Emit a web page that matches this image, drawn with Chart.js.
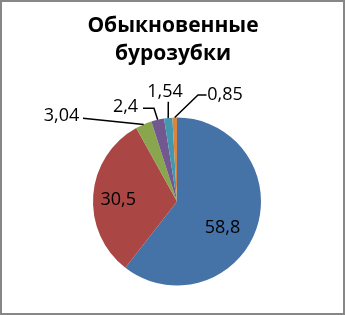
<!DOCTYPE html>
<html>
<head>
<meta charset="utf-8">
<script src="https://cdn.jsdelivr.net/npm/chart.js@4.4.1/dist/chart.umd.min.js"></script>
<style>
  html, body { margin: 0; padding: 0; background: #fff; }
  #frame {
    width: 345px; height: 315px; box-sizing: border-box;
    border: 2px solid #878787; background: #fff;
  }
  canvas { display: block; }
</style>
</head>
<body>
<div id="frame"><canvas id="pie" width="341" height="311"></canvas></div>
<script>
// --- DATA ---
const titleLines = ["Обыкновенные", "бурозубки"];
const categories = ["A", "B", "C", "D", "E", "F"];
const values = [58.8, 30.5, 3.04, 2.4, 1.54, 0.85];
const valueLabels = ["58,8", "30,5", "3,04", "2,4", "1,54", "0,85"];

// --- STYLE / LAYOUT ---
const sliceColors = ["#4572A7", "#AA4643", "#89A54E", "#71588F", "#4198AF", "#DB843D"];
// label text centre relative to pie centre; leader = bend points (pie edge appended)
const labelSpots = [
  { dx: 45.5, dy: 25.5 },
  { dx: -58.7, dy: -2.8 },
  { dx: -115.5, dy: -86.5, leader: [[-94, -83.2]] },
  { dx: -51.5, dy: -95.5, leader: [[-34, -93.2], [-23, -93.2]] },
  { dx: -12, dy: -110.5, leader: [[-8.7, -99.8]] },
  { dx: 48, dy: -107.5, leader: [[29.5, -106.5], [21, -106.5]] },
];

// Draws the title and the data labels with their leader lines
const labelPlugin = {
  id: "pieLabels",
  afterDatasetsDraw(chart) {
    const ctx = chart.ctx;
    const arcs = chart.getDatasetMeta(0).data;
    ctx.save();

    // title
    ctx.fillStyle = "#000";
    ctx.font = "bold 21px 'Open Sans'";
    ctx.textAlign = "center";
    ctx.textBaseline = "alphabetic";
    titleLines.forEach((t, i) => ctx.fillText(t, 171, 29.5 + i * 28));

    ctx.font = "18px 'Open Sans'";
    ctx.textBaseline = "middle";
    ctx.strokeStyle = "#000";
    ctx.lineWidth = 1.5;
    arcs.forEach((arc, i) => {
      const spot = labelSpots[i];
      const cx = arc.x, cy = arc.y;
      if (spot.leader) {
        const mid = (arc.startAngle + arc.endAngle) / 2;
        ctx.beginPath();
        spot.leader.forEach(([px, py], k) => {
          if (k === 0) ctx.moveTo(cx + px, cy + py);
          else ctx.lineTo(cx + px, cy + py);
        });
        ctx.lineTo(cx + Math.cos(mid) * arc.outerRadius, cy + Math.sin(mid) * arc.outerRadius);
        ctx.stroke();
      }
      ctx.fillText(valueLabels[i], cx + spot.dx, cy + spot.dy + 1);
    });
    ctx.restore();
  }
};

new Chart(document.getElementById("pie"), {
  type: "pie",
  data: {
    labels: categories,
    datasets: [{
      data: values,
      backgroundColor: sliceColors,
      borderWidth: 0,
    }]
  },
  options: {
    responsive: false,
    animation: false,
    layout: { padding: { left: 91, right: 82, top: 115.5, bottom: 27.5 } },
    plugins: {
      legend: { display: false },
      tooltip: { enabled: false },
      title: { display: false },
    }
  },
  plugins: [labelPlugin]
});
</script>
</body>
</html>
